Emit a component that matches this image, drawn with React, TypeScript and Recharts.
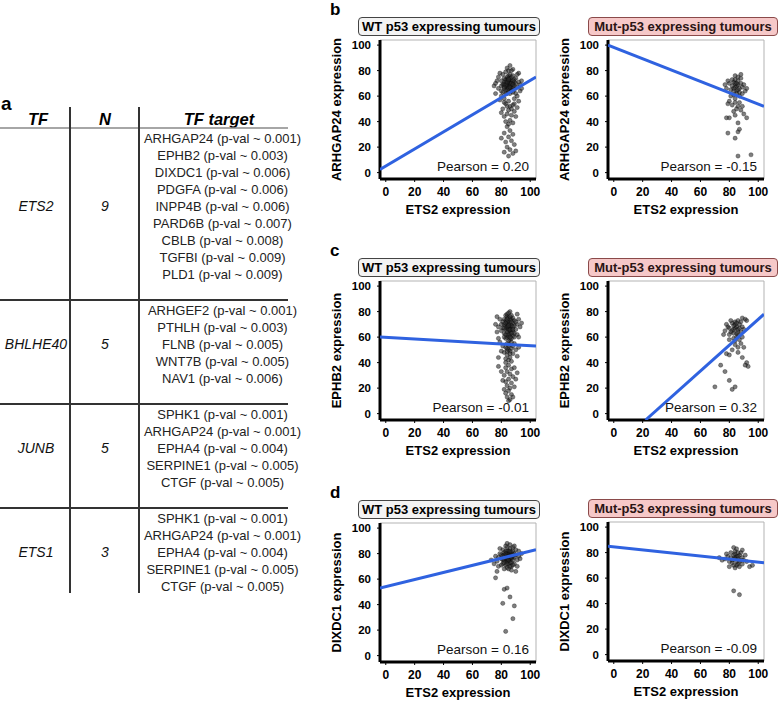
import React from "react";
import { ScatterChart, Scatter, XAxis, YAxis, ReferenceLine } from "recharts";

type Pt = [number, number];

// table (panel a)
const tfNames = ["ETS2", "BHLHE40", "JUNB", "ETS1"];
const tfCounts = [9, 5, 5, 3];
const ets2Targets = [
  "ARHGAP24 (p-val ~ 0.001)",
  "EPHB2 (p-val ~ 0.003)",
  "DIXDC1 (p-val ~ 0.006)",
  "PDGFA (p-val ~ 0.006)",
  "INPP4B (p-val ~ 0.006)",
  "PARD6B (p-val ~ 0.007)",
  "CBLB (p-val ~ 0.008)",
  "TGFBI (p-val ~ 0.009)",
  "PLD1 (p-val ~ 0.009)",
];
const bhlhe40Targets = [
  "ARHGEF2 (p-val ~ 0.001)",
  "PTHLH (p-val ~ 0.003)",
  "FLNB (p-val ~ 0.005)",
  "WNT7B (p-val ~ 0.005)",
  "NAV1 (p-val ~ 0.006)",
];
const junbTargets = [
  "SPHK1 (p-val ~ 0.001)",
  "ARHGAP24 (p-val ~ 0.001)",
  "EPHA4 (p-val ~ 0.004)",
  "SERPINE1 (p-val ~ 0.005)",
  "CTGF (p-val ~ 0.005)",
];
const ets1Targets = [
  "SPHK1 (p-val ~ 0.001)",
  "ARHGAP24 (p-val ~ 0.001)",
  "EPHA4 (p-val ~ 0.004)",
  "SERPINE1 (p-val ~ 0.005)",
  "CTGF (p-val ~ 0.005)",
];
const tfTargets = [ets2Targets, bhlhe40Targets, junbTargets, ets1Targets];

// scatter panels
const xTicks = [0, 20, 40, 60, 80, 100];
const yTicks = [0, 20, 40, 60, 80, 100];
const xLabel = "ETS2 expression";

const arhgap24Wt: Pt[] = [
  [84,70],[85,71],[86,69],[83,68],[87,72],[85,67],[84,73],[86,74],[82,71],[88,70],
  [83,65],[85,64],[87,66],[89,68],[81,69],[84,62],[86,62],[88,63],[82,74],[85,76],
  [87,75],[89,73],[90,70],[83,71],[86,71],[84,67],[86,66],[88,67],[82,66],[80,68],
  [85,69],[87,69],[83,73],[89,65],[91,67],[81,63],[84,75],[86,77],[88,76],[90,74],
  [85,72],[87,64],[83,62],[89,71],[82,69],[86,68],[84,65],[88,72],[85,74],[80,72],
  [84,68],[86,70],[85,66],[87,70],[83,69],[84,71],[86,67],[85,73],[88,69],[82,67],
  [79,78],[92,78],[85,80],[88,81],[83,79],[90,62],[93,69],[78,66],[77,72],[94,72],
  [86,84],[82,58],[89,58],[85,56],[91,60],[80,60],[93,64],[76,62],[87,80],[84,82],
  [79,57],[92,56],[75,68],[78,75],[91,77],[94,66],[76,70],[81,77],[92,71],[80,64],
  [83,54],[86,52],[88,53],[81,50],[85,49],[89,48],[84,46],[87,45],[82,44],[90,44],
  [86,41],[83,40],[88,39],[85,38],[80,47],[91,51],[84,52],[87,50],[82,55],[89,54],
  [84,36],[86,33],[82,31],[88,30],[85,28],[87,25],[83,24],[89,22],[84,20],[86,18],
  [82,16],[88,15],[85,13],[90,17],[80,27],
];
const arhgap24Mut: Pt[] = [
  [84,67],[85,68],[83,66],[86,69],[82,68],[87,66],[84,70],[86,72],[83,71],[88,70],
  [81,65],[85,64],[87,63],[89,67],[80,70],[84,73],[86,75],[88,74],[82,73],[90,69],
  [78,66],[79,72],[91,64],[85,62],[83,61],[87,60],[89,62],[81,60],[84,58],[86,65],
  [88,77],[84,76],[92,66],[77,69],[85,70],[83,64],
  [80,56],[84,55],[87,55],[82,53],[86,52],[85,50],[83,48],[88,49],[79,54],[89,52],
  [84,45],[90,46],
  [80,43],[92,43],[86,39],[79,31],[86,32],[84,27],[87,34],[86,13],[95,14],[78,43],
];
const ephb2Wt: Pt[] = [
  [84,70],[85,72],[86,68],[83,66],[87,74],[85,64],[84,76],[86,62],[82,70],[88,71],
  [83,73],[85,68],[87,66],[89,69],[81,67],[84,60],[86,58],[88,61],[82,63],[85,75],
  [87,77],[89,73],[90,66],[83,59],[86,65],[84,67],[86,71],[88,64],[82,74],[80,65],
  [85,61],[87,69],[83,77],[89,63],[91,70],[81,72],[84,78],[86,80],[88,75],[90,72],
  [85,57],[87,59],[83,62],[89,60],[82,60],[86,74],[84,64],[88,68],[85,79],[80,70],
  [79,74],[92,74],[85,66],[84,72],[86,76],[78,68],[91,62],[87,63],[83,69],[85,70],
  [84,68],[86,66],[83,71],[87,72],[85,62],[84,74],[86,60],[82,67],[88,66],[85,69],
  [77,64],[76,70],[93,68],[92,60],[78,59],[94,71],[77,76],[91,78],
  [84,55],[86,54],[83,52],[87,51],[85,50],[82,48],[88,47],[84,46],[86,44],[83,43],
  [85,42],[87,41],[81,53],[89,55],[90,50],[80,49],[85,53],[86,49],[84,51],[88,53],
  [79,56],[91,45],[83,40],[86,47],[78,44],[92,52],[84,49],[87,56],
  [85,38],[83,36],[87,35],[84,33],[86,31],[82,30],[88,29],[85,27],[83,25],[87,24],
  [84,22],[86,20],[89,21],[81,26],[85,18],[83,16],[87,15],[84,13],[86,11],[88,13],
  [82,19],[90,27],[80,33],[89,36],[85,10],[78,37],[91,32],
];
const ephb2Mut: Pt[] = [
  [83,66],[84,67],[82,65],[85,68],[81,64],[86,66],[83,69],[84,70],[82,71],[87,70],
  [80,62],[85,63],[86,61],[88,64],[79,68],[84,72],[86,73],[88,72],[81,73],[89,68],
  [77,65],[78,70],[90,66],[85,60],[83,59],[87,58],[89,60],[80,58],[84,57],[86,64],
  [89,75],[91,74],[92,73],[76,62],[80,67],[83,63],[87,67],[85,71],
  [78,47],[80,46],[86,48],[89,44],[92,40],[93,37],[91,38],[74,38],[77,33],[70,21],
  [80,26],[82,19],[84,21],[86,52],[84,54],[88,55],[82,50],[90,52],
];
const dixdc1Wt: Pt[] = [
  [84,77],[85,78],[83,76],[86,79],[82,78],[87,76],[84,80],[86,81],[83,74],[88,78],
  [81,75],[85,74],[87,73],[89,77],[80,79],[84,82],[86,84],[88,82],[82,81],[90,79],
  [78,77],[79,80],[91,75],[85,72],[83,71],[87,70],[89,72],[81,72],[84,69],[86,76],
  [88,85],[84,85],[92,78],[77,74],[85,80],[83,79],[87,79],[85,76],[82,75],[86,73],
  [89,80],[80,76],[84,74],[88,75],[83,82],[81,83],[90,83],[86,87],[84,88],[79,84],
  [92,82],[93,76],[76,78],[75,72],[78,70],[91,70],[85,68],[82,68],[87,67],[80,71],
  [94,80],[73,75],[89,86],[83,86],[86,70],[84,76],[85,82],[87,81],[82,73],[88,71],
  [84,78],[86,77],[83,80],[85,75],[87,77],[82,79],[88,79],[84,72],[86,82],[81,78],
  [77,66],[90,66],[76,61],[82,52],[84,53],[86,46],[81,41],[89,39],[88,29],[83,19],
];
const dixdc1Mut: Pt[] = [
  [83,75],[84,76],[82,74],[85,77],[81,76],[86,75],[83,78],[84,79],[82,72],[87,78],
  [80,73],[85,73],[86,71],[88,74],[79,77],[84,81],[86,80],[88,80],[81,80],[89,76],
  [77,75],[78,79],[90,74],[85,70],[83,70],[87,69],[89,71],[80,69],[84,68],[86,77],
  [89,82],[91,78],[92,73],[75,74],[73,76],[94,69],[96,70],[83,84],[85,83],[87,73],
  [83,50],[87,47],
];

// fitted regression lines (end points)
const arhgap24WtFit: Pt[] = [[-4, 2.5], [104, 75]];
const arhgap24MutFit: Pt[] = [[-4, 100], [104, 52]];
const ephb2WtFit: Pt[] = [[-4, 60], [104, 53]];
const ephb2MutFit: Pt[] = [[22, -5], [104, 78]];
const dixdc1WtFit: Pt[] = [[-4, 53], [104, 83]];
const dixdc1MutFit: Pt[] = [[-4, 85], [104, 72]];

const pearsonValues = ["0.20", "-0.15", "-0.01", "0.32", "0.16", "-0.09"];

const FONT = '"Liberation Sans", Arial, Helvetica, sans-serif';
const PLOT_W = 156;
const PLOT_H = 139;

const renderDot = (p: any) => (
  <circle
    cx={p.cx}
    cy={p.cy}
    r={2.1}
    fill="#2a2a2a"
    fillOpacity={0.6}
    stroke="#000"
    strokeOpacity={0.6}
    strokeWidth={0.5}
  />
);
const renderNone = () => <g />;

type PanelProps = {
  plotLeft: number;
  plotTop: number;
  points: Pt[];
  fit: Pt[];
  yLabel: string;
  mutant?: boolean;
  pearson: string;
  letter?: string;
};

const Panel: React.FC<PanelProps> = ({ plotLeft, plotTop, points, fit, yLabel, mutant, pearson, letter }) => {
  const data = points.map(([x, y]) => ({ x, y }));
  const fitData = fit.map(([x, y]) => ({ x, y }));
  return (
    <>
      {letter && (
        <div
          style={{
            position: "absolute",
            left: plotLeft - 50,
            top: plotTop - 40,
            fontSize: 17,
            fontWeight: "bold",
          }}
        >
          {letter}
        </div>
      )}
      <div
        style={{
          position: "absolute",
          left: plotLeft - (mutant ? 20 : 22),
          top: plotTop - 23,
          width: mutant ? 190 : 182,
          height: 19,
          boxSizing: "border-box",
          border: mutant ? "1px solid #8a4a4a" : "1px solid #444",
          borderRadius: 4,
          background: mutant ? "#f6c8c8" : "#f3f3f3",
          color: mutant ? "#2a1414" : "#000",
          fontSize: 13,
          lineHeight: "17px",
          fontWeight: "bold",
          textAlign: "center",
          whiteSpace: "nowrap",
        }}
      >
        {mutant ? "Mut-p53 expressing tumours" : "WT p53 expressing tumours"}
      </div>
      <div style={{ position: "absolute", left: plotLeft - 80, top: plotTop - 10 }}>
        <ScatterChart
          width={80 + PLOT_W + 8}
          height={10 + PLOT_H + 40 + 5}
          margin={{ top: 10, right: 8, bottom: 5, left: 50 }}
        >
          <XAxis
            type="number"
            dataKey="x"
            domain={[-4, 104]}
            ticks={xTicks}
            allowDataOverflow
            height={40}
            axisLine={{ stroke: "#000", strokeWidth: 3 }}
            tickLine={{ stroke: "#000" }}
            tickSize={3}
            tickMargin={5}
            tick={{ fill: "#000", fontSize: 12, fontWeight: "bold", fontFamily: FONT }}
            label={{
              value: xLabel,
              position: "insideBottom",
              offset: 5,
              style: { fill: "#000", fontSize: 13, fontWeight: "bold", fontFamily: FONT },
            }}
          />
          <YAxis
            type="number"
            dataKey="y"
            domain={[-5, 104]}
            ticks={yTicks}
            allowDataOverflow
            width={30}
            axisLine={{ stroke: "#000", strokeWidth: 3 }}
            tickLine={{ stroke: "#000" }}
            tickSize={3}
            tickMargin={6}
            tick={{ fill: "#000", fontSize: 11.5, fontWeight: "bold", fontFamily: FONT }}
            label={{
              value: yLabel,
              angle: -90,
              position: "left",
              offset: 14,
              style: { textAnchor: "middle", fill: "#000", fontSize: 13, fontWeight: "bold", fontFamily: FONT },
            }}
          />
          <ReferenceLine y={104} stroke="#b3b3b3" strokeWidth={1} />
          <ReferenceLine x={104} stroke="#b3b3b3" strokeWidth={1} />
          <Scatter data={data} isAnimationActive={false} shape={renderDot} />
          <Scatter
            data={fitData}
            isAnimationActive={false}
            line={{ stroke: "#2f62e0", strokeWidth: 3 }}
            shape={renderNone}
          />
        </ScatterChart>
      </div>
      <div
        style={{
          position: "absolute",
          left: plotLeft,
          top: plotTop + PLOT_H - 19,
          width: PLOT_W - 7,
          textAlign: "right",
          fontSize: 13.5,
          lineHeight: "14px",
          color: "#111",
          whiteSpace: "nowrap",
        }}
      >
        Pearson = {pearson}
      </div>
    </>
  );
};

const TfTable: React.FC = () => {
  const rowH = 17;
  let base = 143;
  const groups = tfTargets.map((targets, g) => {
    const first = base;
    const last = first + (targets.length - 1) * rowH;
    const sep = last + 21;
    base = sep + 15;
    return { g, targets, first, sep };
  });
  return (
    <svg width={310} height={620} style={{ position: "absolute", left: 0, top: 0 }} fontFamily={FONT}>
      <text x={1} y={110} fontSize={19} fontWeight="bold">a</text>
      <text x={38} y={125} fontSize={16.5} fontWeight="bold" fontStyle="italic" textAnchor="middle">TF</text>
      <text x={105} y={125} fontSize={16.5} fontWeight="bold" fontStyle="italic" textAnchor="middle">N</text>
      <text x={219} y={125} fontSize={16.5} fontWeight="bold" fontStyle="italic" textAnchor="middle">TF target</text>
      <line x1={0} x2={288} y1={128} y2={128} stroke="#888" strokeWidth={1.5} />
      <line x1={70} x2={70} y1={107} y2={593} stroke="#333" strokeWidth={2} />
      <line x1={139} x2={139} y1={107} y2={593} stroke="#333" strokeWidth={2} />
      {groups.map(({ g, targets, first, sep }) => {
        const mid = first + Math.floor((targets.length - 1) / 2) * rowH;
        return (
          <g key={g}>
            <text x={36} y={mid} fontSize={14} fontStyle="italic" textAnchor="middle" fill="#111">
              {tfNames[g]}
            </text>
            <text x={105} y={mid} fontSize={14} fontStyle="italic" textAnchor="middle" fill="#111">
              {tfCounts[g]}
            </text>
            {targets.map((t, i) => (
              <text key={i} x={222.5} y={first + i * rowH} fontSize={13} textAnchor="middle" fill="#222">
                {t}
              </text>
            ))}
            {g < groups.length - 1 && (
              <line x1={0} x2={288} y1={sep} y2={sep} stroke="#333" strokeWidth={2} />
            )}
          </g>
        );
      })}
    </svg>
  );
};

export default function App() {
  return (
    <div
      style={{
        position: "absolute",
        left: 0,
        top: 0,
        width: 780,
        height: 702,
        background: "#fff",
        fontFamily: FONT,
        color: "#000",
        overflow: "hidden",
      }}
    >
      <TfTable />
      <Panel plotLeft={380} plotTop={40} points={arhgap24Wt} fit={arhgap24WtFit} yLabel="ARHGAP24 expression" pearson={pearsonValues[0]} letter="b" />
      <Panel plotLeft={608} plotTop={40} points={arhgap24Mut} fit={arhgap24MutFit} yLabel="ARHGAP24 expression" pearson={pearsonValues[1]} mutant />
      <Panel plotLeft={380} plotTop={281} points={ephb2Wt} fit={ephb2WtFit} yLabel="EPHB2 expression" pearson={pearsonValues[2]} letter="c" />
      <Panel plotLeft={608} plotTop={281} points={ephb2Mut} fit={ephb2MutFit} yLabel="EPHB2 expression" pearson={pearsonValues[3]} mutant />
      <Panel plotLeft={380} plotTop={523} points={dixdc1Wt} fit={dixdc1WtFit} yLabel="DIXDC1 expression" pearson={pearsonValues[4]} letter="d" />
      <Panel plotLeft={608} plotTop={522} points={dixdc1Mut} fit={dixdc1MutFit} yLabel="DIXDC1 expression" pearson={pearsonValues[5]} mutant />
    </div>
  );
}
